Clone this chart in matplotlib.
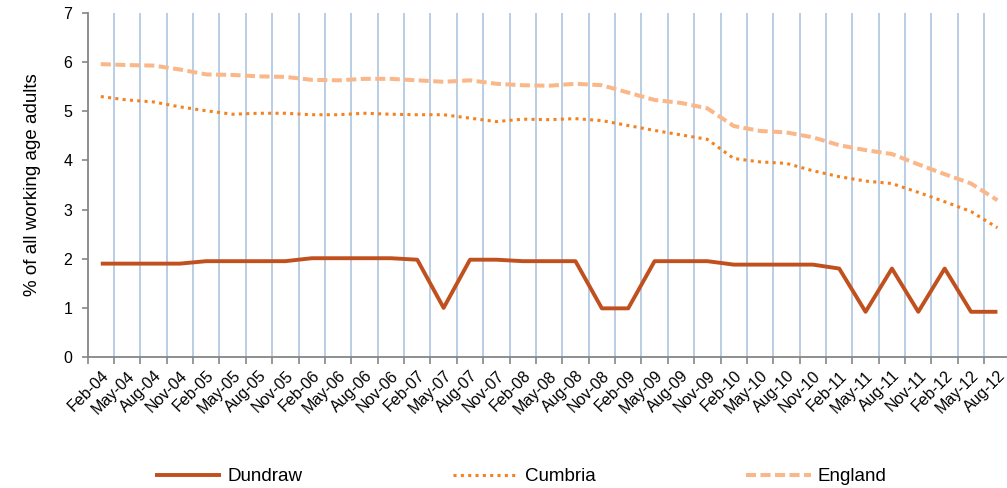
import matplotlib.pyplot as plt
import numpy as np

plt.rcParams['font.family'] = ['Liberation Sans', 'DejaVu Sans']

# Quarterly categories Feb-04 .. Aug-12
months = ['Feb', 'May', 'Aug', 'Nov']
categories = [f"{m}-{y:02d}" for y in range(4, 13) for m in months][:35]

dundraw = [1.90, 1.90, 1.90, 1.90, 1.95, 1.95, 1.95, 1.95, 2.01, 2.01, 2.01, 2.01,
           1.98, 1.00, 1.98, 1.98, 1.95, 1.95, 1.95, 0.99, 0.99, 1.95, 1.95, 1.95,
           1.88, 1.88, 1.88, 1.88, 1.80, 0.92, 1.80, 0.92, 1.80, 0.92, 0.92]
cumbria = [5.30, 5.23, 5.19, 5.09, 5.01, 4.94, 4.96, 4.96, 4.93, 4.93, 4.96, 4.94,
           4.93, 4.93, 4.86, 4.79, 4.84, 4.83, 4.85, 4.81, 4.71, 4.61, 4.52, 4.43,
           4.04, 3.97, 3.94, 3.79, 3.67, 3.58, 3.53, 3.35, 3.16, 2.96, 2.63]
england = [5.96, 5.94, 5.93, 5.85, 5.75, 5.74, 5.71, 5.70, 5.64, 5.63, 5.66, 5.66,
           5.63, 5.60, 5.63, 5.56, 5.53, 5.52, 5.56, 5.53, 5.38, 5.23, 5.17, 5.06,
           4.70, 4.60, 4.57, 4.47, 4.31, 4.21, 4.13, 3.92, 3.72, 3.53, 3.19]

fig = plt.figure(figsize=(10.07, 4.88), dpi=100)
# plot area runs a bit past the right edge, like the cropped original
ax = fig.add_axes([87.6 / 1007, 1 - 357 / 488, (1010.6 - 87.6) / 1007, (357 - 13) / 488])

x = np.arange(len(categories))
ax.plot(x, dundraw, color='#C0501E', lw=2.8, solid_capstyle='butt', label='Dundraw')
ax.plot(x, cumbria, color='#F58220', lw=2.2, linestyle=(0, (1, 1.4)), label='Cumbria')
ax.plot(x, england, color='#FAB88A', lw=2.9, linestyle=(0, (2.5, 1.1)), label='England')

ax.set_xlim(-0.5, len(categories) - 0.5)
ax.set_ylim(0, 7)

# vertical gridlines at category boundaries
bounds = np.arange(-0.5, len(categories) - 0.5, 1.0)
for b in bounds[1:]:
    ax.axvline(b, color='#B9CDE5', lw=1.4, zorder=0)

ax.set_xticks(bounds, minor=True)
ax.set_xticks(x)
ax.set_xticklabels(categories, rotation=45, ha='right', rotation_mode='anchor', fontsize=11.5)
ax.tick_params(axis='x', which='major', length=0, pad=8)
ax.tick_params(axis='x', which='minor', length=5, color='#868686', width=1.2, direction='out')
ax.set_yticks(range(0, 8))
ax.tick_params(axis='y', length=4, color='#868686', width=1.2, labelsize=11.5, pad=7)

for s in ['top', 'right']:
    ax.spines[s].set_visible(False)
for s in ['left', 'bottom']:
    ax.spines[s].set_color('#868686')
    ax.spines[s].set_linewidth(1.3)

ax.set_ylabel('% of all working age adults', fontsize=13.5, labelpad=16)

ax.legend(loc='upper center', bbox_to_anchor=(521 / 1007, 0.075), bbox_transform=fig.transFigure,
          ncol=3, frameon=False, fontsize=13.5, handlelength=3.5, columnspacing=8.0,
          handletextpad=0.35)

fig.savefig('out.png', dpi=100)
